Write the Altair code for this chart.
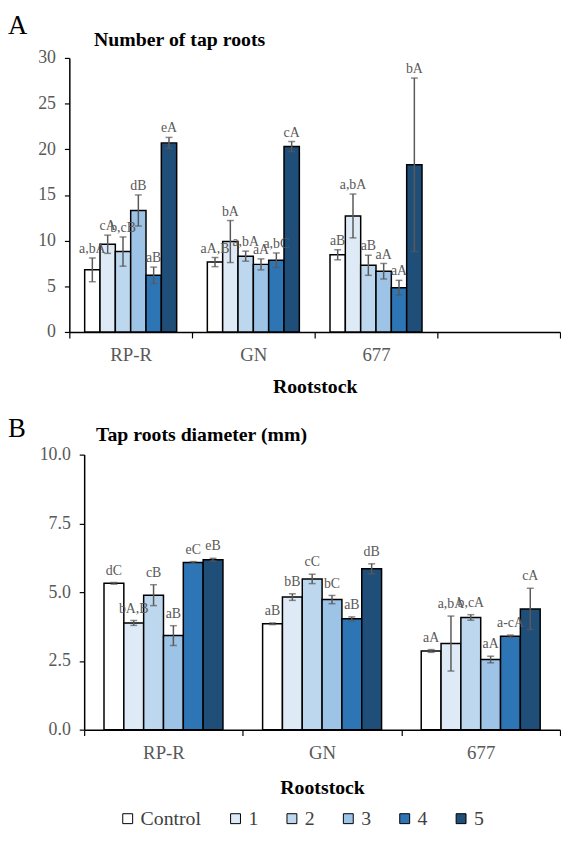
import altair as alt
import pandas as pd

rootstocks = ["RP-R", "GN", "677"]
treatments = ["Control", "1", "2", "3", "4", "5"]
colors = ["#ffffff", "#deebf7", "#bdd7ee", "#9dc3e6", "#2e75b6", "#1f4e79"]

num_mean = [
    [6.8, 9.6, 8.8, 13.3, 6.2, 20.7],
    [7.65, 9.9, 8.3, 7.4, 7.85, 20.3],
    [8.45, 12.7, 7.3, 6.65, 4.85, 18.3],
]
num_err = [
    [1.3, 1.0, 1.6, 1.7, 0.9, 0.6],
    [0.5, 2.3, 0.55, 0.6, 0.8, 0.55],
    [0.55, 2.4, 1.1, 0.85, 0.8, 9.5],
]
num_letters = [
    ["a,bA", "cA", "b,cB", "dB", "aB", "eA"],
    ["aA,B", "bA", "a,bA", "aA", "a,bC", "cA"],
    ["aB", "a,bA", "aB", "aA", "aA", "bA"],
]
dia_mean = [
    [5.32, 3.88, 4.89, 3.42, 6.08, 6.18],
    [3.85, 4.82, 5.48, 4.73, 4.03, 5.85],
    [2.86, 3.13, 4.08, 2.55, 3.40, 4.39],
]
dia_err = [
    [0.03, 0.09, 0.38, 0.36, 0.03, 0.05],
    [0.03, 0.12, 0.17, 0.15, 0.07, 0.18],
    [0.05, 1.0, 0.10, 0.12, 0.04, 0.75],
]
dia_letters = [
    ["dC", "bA,B", "cB", "aB", "eC", "eB"],
    ["aB", "bB", "cC", "bC", "aB", "dB"],
    ["aA", "a,bA", "b,cA", "aA", "a-cA", "cA"],
]

num_ticks = [0, 5, 10, 15, 20, 25, 30]
dia_ticks = [0, 2.5, 5, 7.5, 10]

FONT = "Liberation Serif"
GRAY = "#595959"
W = 496


def make_df(means, errs, letters):
    rows = []
    for i, r in enumerate(rootstocks):
        for j, t in enumerate(treatments):
            m = means[i][j]
            e = errs[i][j]
            rows.append(dict(rootstock=r, treatment=t, mean=m, err=e,
                             lo=m - e, hi=m + e, letter=letters[i][j]))
    return pd.DataFrame(rows)


def panel(df, x_domain, x_start, height, y_ticks, y_fmt, title, letter,
          letter_y, title_x, title_y, label_dy, title_pad, legend):
    x = alt.X("rootstock:N", sort=x_domain,
              scale=alt.Scale(domain=x_domain, paddingInner=0, paddingOuter=0,
                              range=[x_start, W]),
              axis=alt.Axis(title="Rootstock", tickBand="extent", tickSize=6,
                            labelPadding=8, labelFontSize=19, labelAngle=0,
                            titleFontSize=20, titleFontWeight="bold",
                            titleColor="black", titlePadding=title_pad,
                            titleX=(x_start + W) / 2))
    xo = alt.XOffset("treatment:N", sort=treatments,
                     scale=alt.Scale(domain=treatments, paddingInner=0,
                                     paddingOuter=1))
    y = alt.Y("mean:Q",
              scale=alt.Scale(domain=[y_ticks[0], y_ticks[-1]], nice=False),
              axis=alt.Axis(title=None, values=y_ticks, format=y_fmt,
                            tickSize=5, labelPadding=9, labelFontSize=18,
                            offset=-x_start))
    color = alt.Color("treatment:N", sort=treatments,
                      scale=alt.Scale(domain=treatments, range=colors),
                      legend=legend)
    base = alt.Chart(df)
    bars = base.mark_bar(stroke="black", strokeWidth=1.5).encode(
        x=x, xOffset=xo, y=y, color=color)
    rules = base.mark_rule(color=GRAY, strokeWidth=1.5).encode(
        x=x, xOffset=xo, y="lo:Q", y2="hi:Q")
    cap_hi = base.mark_tick(color=GRAY, thickness=1.5, size=7).encode(
        x=x, xOffset=xo, y="hi:Q")
    cap_lo = base.mark_tick(color=GRAY, thickness=1.5, size=7).encode(
        x=x, xOffset=xo, y="lo:Q")
    labels = base.mark_text(font=FONT, fontSize=14, color=GRAY,
                            baseline="middle", dy=label_dy).encode(
        x=x, xOffset=xo, y="hi:Q", text="letter:N")
    tdf = pd.DataFrame({"t": [title]})
    ttl = alt.Chart(tdf).mark_text(font=FONT, fontSize=20, fontWeight="bold",
                                   color="black", align="left",
                                   baseline="middle").encode(
        text="t:N", x=alt.value(title_x), y=alt.value(title_y))
    ldf = pd.DataFrame({"t": [letter]})
    let = alt.Chart(ldf).mark_text(font=FONT, fontSize=27, color="black",
                                   align="left", baseline="middle").encode(
        text="t:N", x=alt.value(-62), y=alt.value(letter_y))
    return alt.layer(bars, rules, cap_hi, cap_lo, labels, ttl, let).properties(
        width=W, height=height)


top_df = make_df(num_mean, num_err, num_letters)
bot_df = make_df(dia_mean, dia_err, dia_letters)

top = panel(top_df, rootstocks + [" "], 0, 277, num_ticks, "d",
            "Number of tap roots", "A", -32, 25, -18, -9, 12, None)

legend = alt.Legend(orient="none", legendX=49, legendY=358,
                    direction="horizontal", columns=6, title=None,
                    symbolType="square", symbolSize=100,
                    symbolStrokeColor="black", symbolStrokeWidth=1,
                    labelFont=FONT, labelFontSize=20, labelColor="#404040",
                    columnPadding=24, labelOffset=3)

bottom = panel(bot_df, rootstocks, 15, 278, dia_ticks, ".1f",
               "Tap roots diameter (mm)", "B", -26, 27, -20, -12, 16,
               legend)

chart = alt.vconcat(top, bottom, spacing=19).resolve_scale(
    x="independent", y="independent", color="independent",
    xOffset="independent"
).properties(
    padding={"left": 0, "top": 0, "right": 0, "bottom": 0}
).configure_view(stroke=None).configure_axis(
    grid=False, domainColor="black", domainWidth=1.5, tickColor="black",
    tickWidth=1.2, labelColor=GRAY, labelFont=FONT, titleFont=FONT
).configure_text(font=FONT)

chart.save("out.html", embed_options={"renderer": "svg", "actions": False})
